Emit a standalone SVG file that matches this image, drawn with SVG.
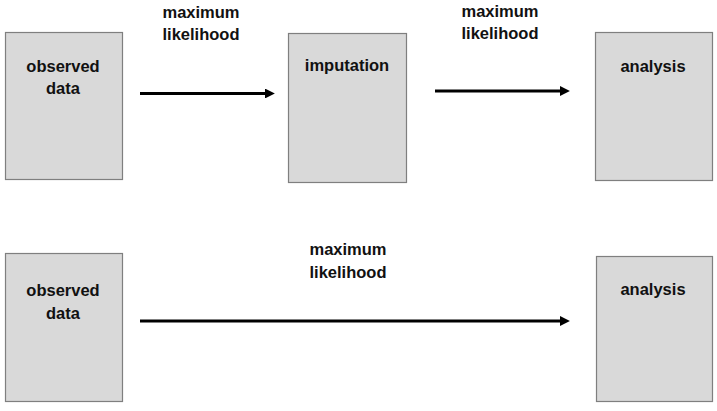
<svg xmlns="http://www.w3.org/2000/svg" width="717" height="411" viewBox="0 0 717 411">
<style>
.box{fill:#d9d9d9;stroke:#7f7f7f;stroke-width:1.2}
.t{font-family:"Liberation Sans",Arial,sans-serif;font-weight:bold;font-size:16.5px;fill:#111;text-anchor:middle}
.c{stroke:#000;stroke-width:3;fill:none;marker-end:url(#ah)}
</style>
<defs>
<marker id="ah" viewBox="0 0 10 10" refX="0" refY="5" markerWidth="3.5" markerHeight="3.3" orient="auto" markerUnits="strokeWidth">
<path d="M0,0 L10,5 L0,10 z" fill="#000"/>
</marker>
</defs>
<rect width="717" height="411" fill="#fff"/>
<g id="observed1"><rect class="box" x="5.5" y="32.5" width="117" height="147"/><text class="t" x="63" y="72">observed</text><text class="t" x="63" y="94">data</text></g>
<g id="imputation"><rect class="box" x="288.5" y="33.5" width="118" height="149"/><text class="t" x="347" y="71">imputation</text></g>
<g id="analysis1"><rect class="box" x="595.5" y="32.5" width="117" height="148"/><text class="t" x="653" y="72">analysis</text></g>
<g id="observed2"><rect class="box" x="5.5" y="253.5" width="117" height="148"/><text class="t" x="63" y="296">observed</text><text class="t" x="63" y="319">data</text></g>
<g id="analysis2"><rect class="box" x="596.5" y="256.5" width="116" height="145"/><text class="t" x="653" y="295">analysis</text></g>
<g id="labels">
<text class="t" x="201" y="18">maximum</text><text class="t" x="201" y="40">likelihood</text>
<text class="t" x="500" y="17">maximum</text><text class="t" x="500" y="39">likelihood</text>
<text class="t" x="348" y="255">maximum</text><text class="t" x="348" y="278">likelihood</text>
</g>
<g id="connectors">
<line class="c" x1="140" y1="93.5" x2="265" y2="93.5"/>
<line class="c" x1="435" y1="91" x2="560" y2="91"/>
<line class="c" x1="140" y1="321" x2="560" y2="321"/>
</g>
</svg>
